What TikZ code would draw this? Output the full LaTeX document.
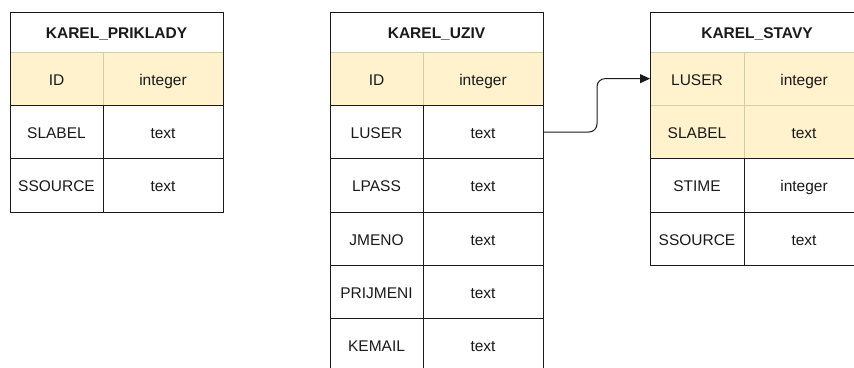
\documentclass[tikz,border=0pt]{standalone}
\usepackage{fontspec}
\setmainfont{Liberation Sans}
\usetikzlibrary{arrows.meta}
\definecolor{linec}{HTML}{1A1A1A}
\definecolor{keyfill}{HTML}{FFF2CC}
\definecolor{keyline}{HTML}{D5CCA8}
\definecolor{textc}{HTML}{1A1A1A}
\tikzset{
  base/.style={anchor=north west, inner sep=0pt, outer sep=0pt, line width=0.9pt,
    text=textc, font=\fontsize{15.5}{18}\selectfont, text height=13pt, text depth=0pt},
  title/.style={base, draw=linec, fill=white, minimum height=40pt,
    font=\fontsize{15.5}{18}\selectfont\bfseries},
  key/.style={base, draw=keyline, fill=keyfill, minimum height=53.333pt},
  cell/.style={base, draw=linec, fill=white, minimum height=53.333pt},
  colA/.style={minimum width=93pt},
  colB/.style={minimum width=120pt},
  conn/.style={draw=linec, line width=1pt, rounded corners=8pt, -{Triangle[length=10pt,width=9pt]}}
}
\begin{document}
\begin{tikzpicture}[x=1pt,y=-1pt]
\useasboundingbox (0,0) rectangle (854,367);

% ---- KAREL_PRIKLADY ----
\node[title, minimum width=213pt] (p0) at (10,12) {KAREL\_PRIKLADY};
\node[key, colA] (p1a) at (10,52) {ID};
\node[key, colB] (p1b) at (103,52) {integer};
\node[cell, colA] (p2a) at (10,105.333) {SLABEL};
\node[cell, colB] (p2b) at (103,105.333) {text};
\node[cell, colA] (p3a) at (10,158.667) {SSOURCE};
\node[cell, colB] (p3b) at (103,158.667) {text};
\draw[line width=0.9pt, draw=linec] (p0.north west) rectangle (p3b.south east);

% ---- KAREL_UZIV ----
\node[title, minimum width=213pt] (u0) at (330,12) {KAREL\_UZIV};
\node[key, colA] (u1a) at (330,52) {ID};
\node[key, colB] (u1b) at (423,52) {integer};
\node[cell, colA] (u2a) at (330,105.333) {LUSER};
\node[cell, colB] (u2b) at (423,105.333) {text};
\node[cell, colA] (u3a) at (330,158.667) {LPASS};
\node[cell, colB] (u3b) at (423,158.667) {text};
\node[cell, colA] (u4a) at (330,212) {JMENO};
\node[cell, colB] (u4b) at (423,212) {text};
\node[cell, colA] (u5a) at (330,265.333) {PRIJMENI};
\node[cell, colB] (u5b) at (423,265.333) {text};
\node[cell, colA] (u6a) at (330,318.667) {KEMAIL};
\node[cell, colB] (u6b) at (423,318.667) {text};
\draw[line width=0.9pt, draw=linec] (u0.north west) rectangle (u6b.south east);

% ---- KAREL_STAVY ----
\node[title, minimum width=214pt] (s0) at (650,12) {KAREL\_STAVY};
\node[key, colA, minimum width=94pt] (s1a) at (650,52) {LUSER};
\node[key, colB] (s1b) at (744,52) {integer};
\node[key, colA, minimum width=94pt] (s2a) at (650,105.333) {SLABEL};
\node[key, colB] (s2b) at (744,105.333) {text};
\node[cell, colA, minimum width=94pt] (s3a) at (650,158.667) {STIME};
\node[cell, colB] (s3b) at (744,158.667) {integer};
\node[cell, colA, minimum width=94pt] (s4a) at (650,212) {SSOURCE};
\node[cell, colB] (s4b) at (744,212) {text};
\draw[line width=0.9pt, draw=linec] (s0.north west) rectangle (s4b.south east);

% ---- connector ----
\draw[conn] (u2b.east) -- ++(54,0) |- (s1a.west);
\end{tikzpicture}
\end{document}
